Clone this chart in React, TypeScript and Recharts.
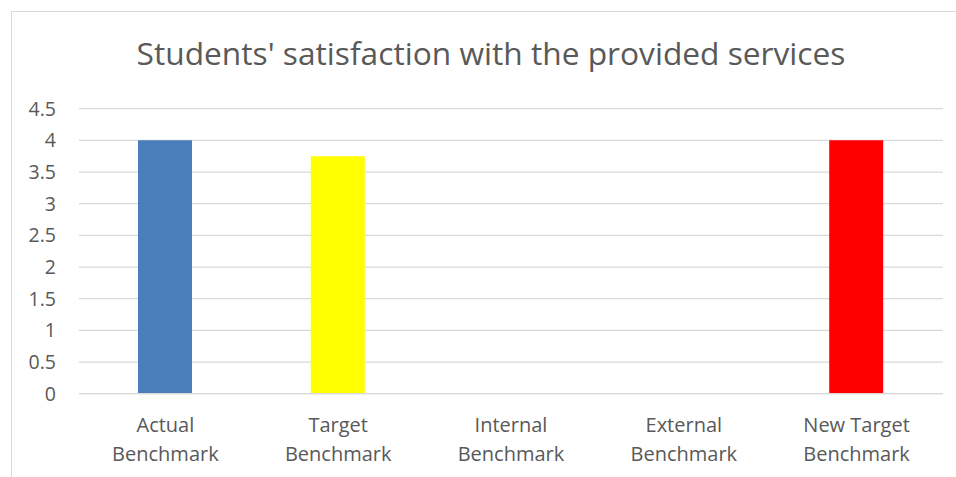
import React from 'react';
import { BarChart, Bar, XAxis, YAxis, CartesianGrid, Cell } from 'recharts';

const categories = ['Actual Benchmark', 'Target Benchmark', 'Internal Benchmark', 'External Benchmark', 'New Target Benchmark'];
const values = [4, 3.75, 0, 0, 4];
const colors = ['#4A7EBB', '#FFFF00', '#A5A5A5', '#FFC000', '#FF0000'];
const yTicks = [0, 0.5, 1, 1.5, 2, 2.5, 3, 3.5, 4, 4.5];
const title = "Students' satisfaction with the provided services";

const data = categories.map((c, i) => ({ name: c, value: values[i] }));

const FONT = "'Open Sans', sans-serif";
const TEXT = '#595959';

const CatTick = (props: any) => {
  const { x, y, payload } = props;
  const s: string = payload.value;
  const idx = s.lastIndexOf(' ');
  const l1 = s.slice(0, idx);
  const l2 = s.slice(idx + 1);
  return (
    <g>
      <text x={x} y={y + 30} textAnchor="middle" fontFamily={FONT} fontSize={20} fill={TEXT}>{l1}</text>
      <text x={x} y={y + 59.5} textAnchor="middle" fontFamily={FONT} fontSize={20} fill={TEXT}>{l2}</text>
    </g>
  );
};

export default function App() {
  return (
    <div style={{ position: 'absolute', left: 0, top: 0, width: 956, height: 477, overflow: 'hidden', background: '#fff' }}>
      <style>{`body{margin:0;overflow:hidden}`}</style>
      <div style={{ position: 'absolute', left: 11, top: 11, width: 960, height: 480, border: '1px solid #d9d9d9' }} />
      <div style={{ position: 'absolute', left: 0, top: 0 }}>
        <BarChart width={956} height={477} data={data} margin={{ top: 108.7, right: 13, bottom: 0, left: 0 }} barSize={54}>
          <text x={491} y={65} textAnchor="middle" fontFamily={FONT} fontSize={31.7} fill={TEXT}>{title}</text>
          <CartesianGrid vertical={false} stroke="#d9d9d9" strokeWidth={1.3} />
          <XAxis dataKey="name" axisLine={{ stroke: '#d9d9d9', strokeWidth: 1.3 }} tickLine={false} tick={<CatTick />} height={83.3} interval={0} />
          <YAxis width={79} domain={[0, 4.5]} ticks={yTicks} axisLine={false} tickLine={false} tickSize={0} tickMargin={23}
            tick={{ fontFamily: FONT, fontSize: 19.5, fill: TEXT }} />
          <Bar dataKey="value" isAnimationActive={false}>
            {data.map((d, i) => <Cell key={i} fill={colors[i]} />)}
          </Bar>
        </BarChart>
      </div>
    </div>
  );
}
